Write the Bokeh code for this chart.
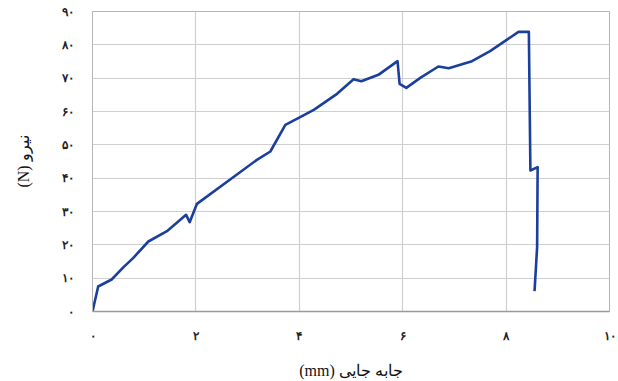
from bokeh.plotting import figure
from bokeh.models import Range1d, FixedTicker
from bokeh.embed import file_html
from bokeh.resources import INLINE

# Force–displacement curve of the specimen
disp_mm = [0, 0.11, 0.37, 0.60, 0.79, 1.08, 1.44, 1.81, 1.88, 2.02, 3.18, 3.44,
           3.73, 3.98, 4.28, 4.73, 5.05, 5.20, 5.53, 5.90, 5.94, 6.07, 6.34,
           6.69, 6.89, 7.34, 7.69, 8.24, 8.44, 8.47, 8.61, 8.60, 8.55]
force_n = [0, 7.5, 9.6, 13.3, 16.1, 21.0, 24.1, 29.0, 26.8, 32.3, 45.5, 48.0,
           56.0, 58.0, 60.5, 65.3, 69.7, 69.1, 71.0, 75.1, 68.3, 67.1, 70.1,
           73.5, 73.0, 75.1, 78.1, 83.9, 83.9, 42.3, 43.3, 19.3, 6.1]

x_ticks = [0, 2, 4, 6, 8, 10]
x_tick_labels = ["۰", "۲", "۴", "۶", "۸", "۱۰"]
y_ticks = [0, 10, 20, 30, 40, 50, 60, 70, 80, 90]
y_tick_labels = ["۰", "۱۰", "۲۰", "۳۰", "۴۰", "۵۰", "۶۰", "۷۰", "۸۰", "۹۰"]

x_title = "\u202bجابه جایی (mm)\u202c"
y_title = "\u202bنیرو (N)\u202c"

p = figure(width=618, height=381, output_backend="svg", toolbar_location=None,
           x_range=Range1d(0, 10), y_range=Range1d(0, 90),
           min_border_left=92, min_border_right=9, min_border_top=11,
           min_border_bottom=70)

p.line(disp_mm, force_n, line_color="#1b3f9c", line_width=2.6, line_join="round")

p.xaxis.ticker = FixedTicker(ticks=x_ticks)
p.yaxis.ticker = FixedTicker(ticks=y_ticks)
p.xaxis.major_label_overrides = {t: s for t, s in zip(x_ticks, x_tick_labels)}
p.yaxis.major_label_overrides = {t: s for t, s in zip(y_ticks, y_tick_labels)}

for ax in (p.xaxis, p.yaxis):
    ax.major_tick_line_color = None
    ax.minor_tick_line_color = None
    ax.major_label_text_font = "DejaVu Serif"
    ax.major_label_text_font_style = "bold"
    ax.major_label_text_font_size = "12px"
    ax.major_label_text_color = "#222222"
    ax.axis_label_text_font = "Liberation Serif"
    ax.axis_label_text_font_style = "normal"
    ax.axis_label_text_font_size = "16px"
    ax.axis_label_text_color = "#111111"

p.xaxis.axis_label = x_title
p.yaxis.axis_label = y_title
p.xaxis.major_label_standoff = 11
p.yaxis.major_label_standoff = 13
p.xaxis.axis_label_standoff = 16
p.yaxis.axis_label_standoff = 27

p.xaxis.axis_line_color = "#9a9a9a"
p.xaxis.axis_line_width = 1.5
p.yaxis.axis_line_color = "#b5b5b5"
p.outline_line_color = "#b5b5b5"

p.xgrid.grid_line_color = "#cfcfcf"
p.ygrid.grid_line_color = "#cfcfcf"
p.xgrid.grid_line_width = 1.2
p.ygrid.grid_line_width = 1.2

p.background_fill_color = "white"
p.border_fill_color = "white"

open("out.html", "w").write(file_html(p, INLINE))
